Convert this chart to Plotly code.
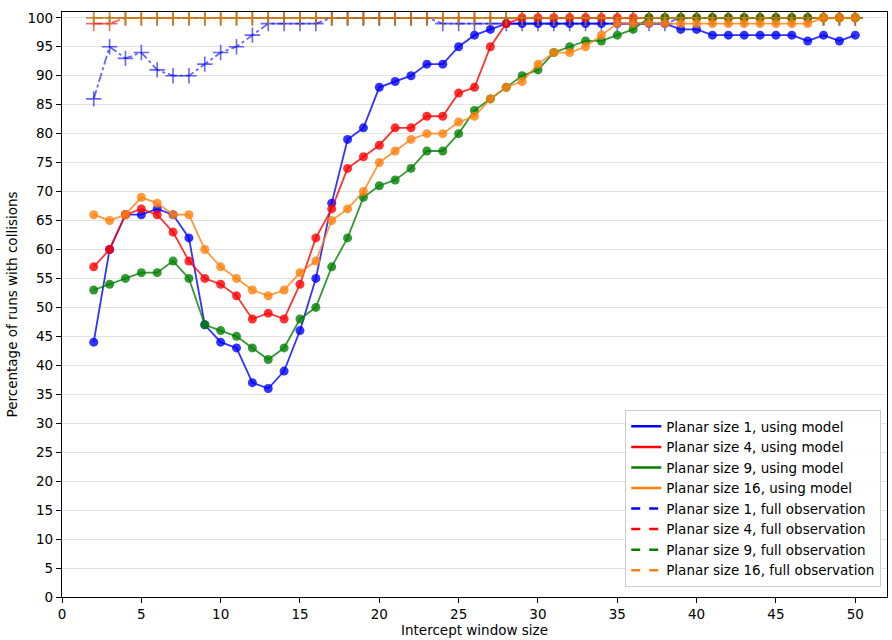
import plotly.graph_objects as go

x = list(range(2, 51))

model_1 = [44, 60, 66, 66, 67, 66, 62, 47, 44, 43, 37, 36, 39, 46, 55, 68, 79, 81, 88, 89,
           90, 92, 92, 95, 97, 98, 99, 99, 99, 99, 99, 99, 99, 99, 99, 99, 99, 98, 98, 97,
           97, 97, 97, 97, 97, 96, 97, 96, 97]
model_4 = [57, 60, 66, 67, 66, 63, 58, 55, 54, 52, 48, 49, 48, 54, 62, 67, 74, 76, 78, 81,
           81, 83, 83, 87, 88, 95, 99, 100, 100, 100, 100, 100, 100, 100, 100, 100, 100, 100, 100, 100,
           100, 100, 100, 100, 100, 100, 100, 100, 100]
model_9 = [53, 54, 55, 56, 56, 58, 55, 47, 46, 45, 43, 41, 43, 48, 50, 57, 62, 69, 71, 72,
           74, 77, 77, 80, 84, 86, 88, 90, 91, 94, 95, 96, 96, 97, 98, 100, 100, 100, 100, 100,
           100, 100, 100, 100, 100, 100, 100, 100, 100]
model_16 = [66, 65, 66, 69, 68, 66, 66, 60, 57, 55, 53, 52, 53, 56, 58, 65, 67, 70, 75, 77,
            79, 80, 80, 82, 83, 86, 88, 89, 92, 94, 94, 95, 97, 99, 99, 99, 99, 99, 99, 99,
            99, 99, 99, 99, 99, 99, 100, 100, 100]

full_1 = [86, 95, 93, 94, 91, 90, 90, 92, 94, 95, 97, 99, 99, 99, 99, 100, 100, 100, 100, 100,
          100, 100, 99, 99, 99, 99, 99, 99, 99, 99, 99, 99, 99, 99, 99, 99, 99, 100, 100, 100,
          100, 100, 100, 100, 100, 100, 100, 100, 100]
full_4 = [99, 99] + [100] * 47
full_9 = [100] * 49
full_16 = [100] * 49

sizes = [1, 4, 9, 16]
colors = ["rgba(0,0,255,{a})", "rgba(255,0,0,{a})", "rgba(0,128,0,{a})", "rgba(255,127,14,{a})"]
models = [model_1, model_4, model_9, model_16]
fulls = [full_1, full_4, full_9, full_16]

fig = go.Figure()

for s, c, m, f in zip(sizes, colors, models, fulls):
    fig.add_trace(go.Scatter(
        x=x, y=m, mode="lines+markers", showlegend=False,
        line=dict(color=c.format(a=0.8), width=1.8),
        marker=dict(color=c.format(a=0.8), size=9, symbol="circle"),
    ))
    fig.add_trace(go.Scatter(
        x=x, y=f, mode="lines+markers", showlegend=False,
        line=dict(color=c.format(a=0.6), width=1.8, dash="dashdot"),
        marker=dict(color=c.format(a=0.6), size=11, symbol="cross-thin",
                    line=dict(color=c.format(a=0.6), width=1.6)),
    ))

for s, c in zip(sizes, colors):
    fig.add_trace(go.Scatter(
        x=[None], y=[None], mode="lines", name=f"Planar size {s}, using model",
        line=dict(color=c.format(a=1), width=2.5),
    ))
for s, c in zip(sizes, colors):
    fig.add_trace(go.Scatter(
        x=[None], y=[None], mode="lines", name=f"Planar size {s}, full observation",
        line=dict(color=c.format(a=1), width=2.5, dash="dash"),
    ))

font = dict(family="DejaVu Sans", size=13.5, color="black")
fig.update_layout(
    width=892, height=640,
    margin=dict(l=62, r=5, t=12, b=43),
    paper_bgcolor="white", plot_bgcolor="white",
    font=font,
    showlegend=True,
    legend=dict(x=0.993, y=0.017, xanchor="right", yanchor="bottom",
                bgcolor="rgba(255,255,255,0.85)", bordercolor="#cccccc", borderwidth=1,
                font=dict(family="DejaVu Sans", size=13.5), itemwidth=30,
                tracegroupgap=0),
)
fig.update_xaxes(
    range=[0, 52], tickmode="array", tickvals=list(range(0, 51, 5)),
    showgrid=False, zeroline=False, showline=True, mirror=True, linecolor="black", linewidth=1.2,
    ticks="outside", ticklen=5, tickcolor="black",
    title=dict(text="Intercept window size", font=dict(family="DejaVu Sans", size=13.5), standoff=4),
)
fig.update_yaxes(
    range=[0, 101], tickmode="array", tickvals=list(range(0, 101, 5)),
    showgrid=True, gridcolor="#e2e2e2", gridwidth=1, zeroline=False,
    showline=True, mirror=True, linecolor="black", linewidth=1.2,
    ticks="outside", ticklen=5, tickcolor="black",
    title=dict(text="Percentage of runs with collisions", font=dict(family="DejaVu Sans", size=13.5), standoff=6),
)

fig.write_html("out.html")
